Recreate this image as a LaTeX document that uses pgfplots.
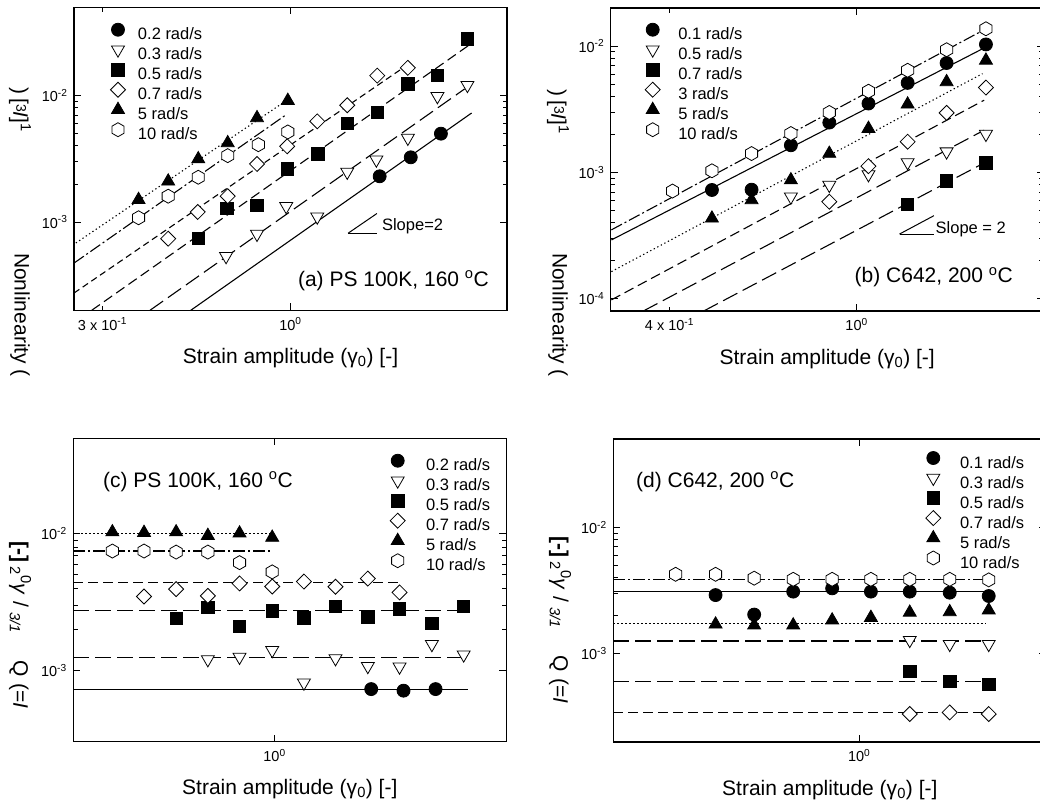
\documentclass[border=0pt]{standalone}
\usepackage{fontspec}
\setmainfont{Liberation Sans}
\usepackage{pgfplots}
\pgfplotsset{compat=1.18}
\usetikzlibrary{plotmarks}

\pgfdeclareplotmark{hexagon}{%
  \pgfpathmoveto{\pgfqpoint{0pt}{\pgfplotmarksize}}%
  \pgfpathlineto{\pgfqpoint{0.866\pgfplotmarksize}{0.5\pgfplotmarksize}}%
  \pgfpathlineto{\pgfqpoint{0.866\pgfplotmarksize}{-0.5\pgfplotmarksize}}%
  \pgfpathlineto{\pgfqpoint{0pt}{-\pgfplotmarksize}}%
  \pgfpathlineto{\pgfqpoint{-0.866\pgfplotmarksize}{-0.5\pgfplotmarksize}}%
  \pgfpathlineto{\pgfqpoint{-0.866\pgfplotmarksize}{0.5\pgfplotmarksize}}%
  \pgfpathclose
  \pgfusepathqfillstroke
}

\pgfplotsset{
  every axis/.append style={
    scale only axis,
    width=433pt, height=303pt,
    anchor=north west,
    axis line style={line width=1.5pt},
    every tick/.style={black, line width=0.9pt},
    major tick length=7pt, minor tick length=4.5pt,
    tick align=inside,
    tick label style={font=\fontsize{14.5}{16}\selectfont},
    xticklabel style={yshift=-4pt},
    yticklabel style={xshift=-3pt},
    xlabel style={at={(axis description cs:0.5,0)}, anchor=base, yshift=-53pt,
      font=\fontsize{21}{24}\selectfont},
    xlabel={Strain amplitude (γ\textsubscript{0}) [-]},
    legend cell align=left,
    legend style={draw=none, fill=none, inner sep=0pt, outer sep=0pt,
      font=\fontsize{16.5}{18}\selectfont, row sep=0pt,
      nodes={inner sep=1pt, text height=11.5pt, text depth=3.5pt}},
    legend image code/.code={%
      \pgfpathrectangle{\pgfpoint{-7pt}{-3.5pt}}{\pgfpoint{14pt}{15pt}}%
      \pgfusepath{use as bounding box}%
      \draw[##1,overlay] plot coordinates {(0pt,6pt)};},
  },
  mcirc/.style={only marks, mark=*, mark size=6.5pt, mark options={solid, draw=black, line width=0.8pt, fill=black}},
  mtrid/.style={only marks, mark=triangle*, mark size=7.5pt, mark options={solid, draw=black, line width=0.8pt, fill=white, rotate=180}},
  msq/.style={only marks, mark=square*, mark size=6.2pt, mark options={solid, draw=black, line width=0.8pt, fill=black}},
  mdia/.style={only marks, mark=square*, mark size=5.3pt, mark options={solid, draw=black, line width=0.8pt, fill=white, rotate=45}},
  mtriu/.style={only marks, mark=triangle*, mark size=7.5pt, mark options={solid, draw=black, line width=0.8pt, fill=black}},
  mhex/.style={only marks, mark=hexagon, mark size=7pt, mark options={solid, draw=black, line width=0.8pt, fill=white}},
  lsolid/.style={black, line width=1.1pt, no marks, forget plot, solid},
  llong/.style={black, line width=1.1pt, no marks, forget plot, dash pattern=on 16pt off 6pt},
  lmed/.style={black, line width=1.1pt, no marks, forget plot, dash pattern=on 10pt off 5pt},
  lshort/.style={black, line width=1.1pt, no marks, forget plot, dash pattern=on 6.5pt off 4pt},
  ldashdot/.style={black, line width=1.1pt, no marks, forget plot, dash pattern=on 12pt off 3pt on 2pt off 3pt},
  ldot/.style={black, line width=1.1pt, no marks, forget plot, dash pattern=on 1.3pt off 2.7pt},
}

\begin{document}
\begin{tikzpicture}

% ---------------- (a) ----------------
\begin{loglogaxis}[at={(74pt,-7.3pt)},
  xmin=0.25, xmax=4, ymin=2e-4, ymax=5e-2,
  xtick={1}, xticklabels={10\textsuperscript{0}},
  extra x ticks={0.3}, extra x tick labels={3 x 10\textsuperscript{-1}},
  extra x tick style={major tick length=4.5pt},
  ytick={1e-3,1e-2}, yticklabels={10\textsuperscript{-3},10\textsuperscript{-2}},
  legend style={at={(axis description cs:0,1)}, anchor=north west, xshift=37pt, yshift=-16.9pt, column sep=12pt},
]
\addplot[mcirc] coordinates {(1.77,2.30e-3) (2.16,3.25e-3) (2.62,5.0e-3)};
\addlegendentry{0.2 rad/s}
\addplot[mtrid] coordinates {(0.662,5.35e-4) (0.807,8.03e-4) (0.973,1.33e-3) (1.187,1.10e-3) (1.438,2.49e-3) (1.733,3.11e-3) (2.12,4.62e-3) (2.562,9.88e-3) (3.105,1.21e-2)};
\addlegendentry{0.3 rad/s}
\addplot[msq] coordinates {(0.554,7.38e-4) (0.666,1.28e-3) (0.807,1.36e-3) (0.979,2.63e-3) (1.191,3.45e-3) (1.438,6.0e-3) (1.743,7.38e-3) (2.12,1.24e-2) (2.562,1.44e-2) (3.105,2.81e-2)};
\addlegendentry{0.5 rad/s}
\addplot[mdia] coordinates {(0.457,7.38e-4) (0.552,1.20e-3) (0.669,1.60e-3) (0.807,2.88e-3) (0.979,3.97e-3) (1.187,6.26e-3) (1.438,8.39e-3) (1.743,1.44e-2) (2.12,1.66e-2)};
\addlegendentry{0.7 rad/s}
\addplot[mtriu] coordinates {(0.378,1.50e-3) (0.457,2.10e-3) (0.554,3.15e-3) (0.669,4.22e-3) (0.807,6.66e-3) (0.983,9.13e-3)};
\addlegendentry{5 rad/s}
\addplot[mhex] coordinates {(0.378,1.08e-3) (0.457,1.60e-3) (0.554,2.26e-3) (0.669,3.35e-3) (0.814,4.09e-3) (0.983,5.16e-3)};
\addlegendentry{10 rad/s}
\addplot[lsolid] coordinates {(0.528,2e-4) (3.19,7.29e-3)};
\addplot[llong] coordinates {(0.4066,2e-4) (3.05,1.13e-2)};
\addplot[lmed] coordinates {(0.28,2e-4) (3.15,2.53e-2)};
\addplot[lshort] coordinates {(0.25,2.74e-4) (2.12,1.76e-2)};
\addplot[ldashdot] coordinates {(0.25,4.73e-4) (0.973,7.07e-3)};
\addplot[ldot] coordinates {(0.253,6.82e-4) (0.952,8.75e-3)};
\draw[line width=1pt] (rel axis cs:0.633,0.2544) -- (rel axis cs:0.6996,0.3195);
\draw[line width=1pt] (rel axis cs:0.633,0.2544) -- (rel axis cs:0.6996,0.2544);
\node[anchor=base west, inner sep=0pt, font=\fontsize{16.5}{18}\selectfont] at (rel axis cs:0.711,0.262) {Slope=2};
\node[anchor=base west, inner sep=0pt, font=\fontsize{21}{24}\selectfont] at (rel axis cs:0.517,0.079) {(a) PS 100K, 160 \textsuperscript{o}C};
\end{loglogaxis}

% ---------------- (b) ----------------
\begin{loglogaxis}[at={(610.7pt,-8pt)},
  xmin=0.3, xmax=2.5, ymin=8e-5, ymax=2e-2,
  xtick={1}, xticklabels={10\textsuperscript{0}},
  extra x ticks={0.4}, extra x tick labels={4 x 10\textsuperscript{-1}},
  extra x tick style={major tick length=4.5pt},
  ytick={1e-4,1e-3,1e-2}, yticklabels={10\textsuperscript{-4},10\textsuperscript{-3},10\textsuperscript{-2}},
  legend style={at={(axis description cs:0,1)}, anchor=north west, xshift=35pt, yshift=-16.2pt, column sep=17.6pt},
]
\addplot[mcirc] coordinates {(0.4925,7.26e-4) (0.598,7.3e-4) (0.725,1.64e-3) (0.875,2.48e-3) (1.06,3.51e-3) (1.284,5.11e-3) (1.554,7.34e-3) (1.884,1.03e-2)};
\addlegendentry{0.1 rad/s}
\addplot[mtrid] coordinates {(0.725,6.42e-4) (0.875,7.94e-4) (1.06,9.64e-4) (1.284,1.2e-3) (1.554,1.46e-3) (1.884,2.01e-3)};
\addlegendentry{0.5 rad/s}
\addplot[msq] coordinates {(1.284,5.59e-4) (1.554,8.55e-4) (1.884,1.19e-3)};
\addlegendentry{0.7 rad/s}
\addplot[mdia] coordinates {(0.875,5.86e-4) (1.06,1.12e-3) (1.284,1.75e-3) (1.554,2.96e-3) (1.884,4.69e-3)};
\addlegendentry{3 rad/s}
\addplot[mtriu] coordinates {(0.4925,4.33e-4) (0.598,6.05e-4) (0.725,8.7e-4) (0.875,1.41e-3) (1.06,2.22e-3) (1.284,3.46e-3) (1.554,5.2e-3) (1.884,7.7e-3)};
\addlegendentry{5 rad/s}
\addplot[mhex] coordinates {(0.406,7.12e-4) (0.4925,1.03e-3) (0.598,1.41e-3) (0.725,2.03e-3) (0.875,2.98e-3) (1.06,4.39e-3) (1.284,6.43e-3) (1.554,9.35e-3) (1.884,1.37e-2)};
\addlegendentry{10 rad/s}
\addplot[ldashdot] coordinates {(0.301,3.51e-4) (1.884,1.37e-2)};
\addplot[lsolid] coordinates {(0.301,2.92e-4) (1.884,9.82e-3)};
\addplot[ldot] coordinates {(0.301,1.64e-4) (1.853,6.05e-3)};
\addplot[lmed] coordinates {(0.301,9.8e-5) (1.868,3.73e-3)};
\addplot[llong] coordinates {(0.352,8e-5) (1.868,2.16e-3)};
\addplot[llong] coordinates {(0.473,8e-5) (1.884,1.21e-3)};
\draw[line width=1pt] (rel axis cs:0.667,0.254) -- (rel axis cs:0.7464,0.3146);
\draw[line width=1pt] (rel axis cs:0.667,0.254) -- (rel axis cs:0.7464,0.254);
\node[anchor=base west, inner sep=0pt, font=\fontsize{16.5}{18}\selectfont] at (rel axis cs:0.750,0.257) {Slope = 2};
\node[anchor=base west, inner sep=0pt, font=\fontsize{21}{24}\selectfont] at (rel axis cs:0.563,0.094) {(b) C642, 200 \textsuperscript{o}C};
\end{loglogaxis}

% ---------------- (c) ----------------
\begin{loglogaxis}[at={(73.3pt,-438.5pt)},
  xmin=0.3, xmax=4, ymin=3e-4, ymax=5e-2,
  xtick={1}, xticklabels={10\textsuperscript{0}},
  ytick={1e-3,1e-2}, yticklabels={10\textsuperscript{-3},10\textsuperscript{-2}},
  legend style={at={(axis description cs:0,1)}, anchor=north west, xshift=317.4pt, yshift=-16.7pt, column sep=20.3pt},
]
\addplot[mcirc] coordinates {(1.783,7.27e-4) (2.163,7.08e-4) (2.62,7.27e-4)};
\addlegendentry{0.2 rad/s}
\addplot[mtrid] coordinates {(0.671,1.2e-3) (0.811,1.25e-3) (0.986,1.4e-3) (1.192,8.09e-4) (1.44,1.22e-3) (1.747,1.07e-3) (2.112,1.06e-3) (2.563,1.55e-3) (3.10,1.3e-3)};
\addlegendentry{0.3 rad/s}
\addplot[msq] coordinates {(0.555,2.41e-3) (0.671,2.89e-3) (0.811,2.09e-3) (0.986,2.73e-3) (1.192,2.42e-3) (1.44,2.94e-3) (1.747,2.44e-3) (2.112,2.81e-3) (2.563,2.21e-3) (3.10,2.94e-3)};
\addlegendentry{0.5 rad/s}
\addplot[mdia] coordinates {(0.458,3.47e-3) (0.555,3.93e-3) (0.671,3.51e-3) (0.811,4.33e-3) (0.986,4.11e-3) (1.192,4.47e-3) (1.44,4.09e-3) (1.747,4.7e-3) (2.112,3.72e-3)};
\addlegendentry{0.7 rad/s}
\addplot[mtriu] coordinates {(0.379,1.03e-2) (0.458,1.02e-2) (0.555,1.03e-2) (0.671,9.7e-3) (0.811,1.01e-2) (0.986,9.4e-3)};
\addlegendentry{5 rad/s}
\addplot[mhex] coordinates {(0.379,7.48e-3) (0.458,7.48e-3) (0.555,7.35e-3) (0.671,7.35e-3) (0.811,6.15e-3) (0.986,5.26e-3)};
\addlegendentry{10 rad/s}
\addplot[ldot] coordinates {(0.3,1e-2) (0.99,1e-2)};
\addplot[ldashdot] coordinates {(0.3,7.48e-3) (0.99,7.48e-3)};
\addplot[lmed] coordinates {(0.3,4.37e-3) (2.11,4.37e-3)};
\addplot[llong] coordinates {(0.3,2.73e-3) (3.15,2.73e-3)};
\addplot[llong] coordinates {(0.3,1.23e-3) (3.1,1.23e-3)};
\addplot[lsolid] coordinates {(0.3,7.27e-4) (3.18,7.27e-4)};
\node[anchor=base west, inner sep=0pt, font=\fontsize{21}{24}\selectfont] at (rel axis cs:0.0685,0.839) {(c) PS 100K, 160 \textsuperscript{o}C};
\end{loglogaxis}

% ---------------- (d) ----------------
\begin{loglogaxis}[at={(613.3pt,-439pt)},
  xmin=0.3, xmax=2.5, ymin=2e-4, ymax=5e-2,
  xtick={1}, xticklabels={10\textsuperscript{0}},
  ytick={1e-3,1e-2}, yticklabels={10\textsuperscript{-3},10\textsuperscript{-2}},
  legend style={at={(axis description cs:0,1)}, anchor=north west, xshift=313pt, yshift=-13.5pt, column sep=18.7pt},
]
\addplot[mcirc] coordinates {(0.495,2.91e-3) (0.598,2.04e-3) (0.724,3.1e-3) (0.876,3.29e-3) (1.059,3.1e-3) (1.281,3.1e-3) (1.558,3.04e-3) (1.886,2.86e-3)};
\addlegendentry{0.1 rad/s}
\addplot[mtrid] coordinates {(1.281,1.28e-3) (1.558,1.19e-3) (1.886,1.19e-3)};
\addlegendentry{0.3 rad/s}
\addplot[msq] coordinates {(1.281,7.23e-4) (1.558,6.03e-4) (1.886,5.7e-4)};
\addlegendentry{0.5 rad/s}
\addplot[mdia] coordinates {(1.281,3.33e-4) (1.558,3.43e-4) (1.886,3.33e-4)};
\addlegendentry{0.7 rad/s}
\addplot[mtriu] coordinates {(0.495,1.71e-3) (0.598,1.68e-3) (0.724,1.68e-3) (0.876,1.84e-3) (1.059,1.93e-3) (1.281,2.12e-3) (1.558,2.14e-3) (1.886,2.21e-3)};
\addlegendentry{5 rad/s}
\addplot[mhex] coordinates {(0.407,4.25e-3) (0.495,4.25e-3) (0.598,3.96e-3) (0.724,3.88e-3) (0.876,3.88e-3) (1.059,3.88e-3) (1.281,3.88e-3) (1.558,3.88e-3) (1.886,3.84e-3)};
\addlegendentry{10 rad/s}
\addplot[ldashdot] coordinates {(0.3,3.86e-3) (1.94,3.86e-3)};
\addplot[lsolid] coordinates {(0.3,3.1e-3) (1.94,3.1e-3)};
\addplot[ldot] coordinates {(0.3,1.73e-3) (1.865,1.73e-3)};
\addplot[llong] coordinates {(0.3,1.26e-3) (1.94,1.26e-3)};
\addplot[llong] coordinates {(0.3,6.03e-4) (1.94,6.03e-4)};
\addplot[lmed] coordinates {(0.3,3.43e-4) (1.92,3.43e-4)};
\node[anchor=base west, inner sep=0pt, font=\fontsize{21}{24}\selectfont] at (rel axis cs:0.0524,0.8406) {(d) C642, 200 \textsuperscript{o}C};
\end{loglogaxis}

% ---------------- y labels ----------------
\node[rotate=-90, font=\fontsize{21}{24}\selectfont, inner sep=0pt] at (20pt,-315pt) {Nonlinearity (};
\node[rotate=-90, font=\fontsize{21}{24}\selectfont, inner sep=0pt] at (20pt,-110pt) {)\,[\raisebox{3pt}{\fontsize{14}{14}\selectfont 3}\textit{I}]\textsuperscript{1}};
\node[rotate=-90, font=\fontsize{21}{24}\selectfont, inner sep=0pt] at (558pt,-315pt) {Nonlinearity (};
\node[rotate=-90, font=\fontsize{21}{24}\selectfont, inner sep=0pt] at (558pt,-112pt) {)\,[\raisebox{3pt}{\fontsize{14}{14}\selectfont 3}\textit{I}]\textsuperscript{1}};
\node[rotate=-90, font=\fontsize{21}{24}\selectfont, inner sep=0pt] at (20pt,-625pt) {\textbf{[-]}\,\textsubscript{2}\textsuperscript{0}\textit{γ} / \textsubscript{\textit{3/1}}\hspace{1.3em}Q (=\textit{I}};
\node[rotate=-90, font=\fontsize{21}{24}\selectfont, inner sep=0pt] at (560pt,-620pt) {\textbf{[-]}\,\textsubscript{2}\textsuperscript{0}\textit{γ} / \textsubscript{\textit{3/1}}\hspace{1.3em}Q (=\textit{I}};

\pgfresetboundingbox
\path[use as bounding box] (0pt,0pt) rectangle (1040pt,-809pt);
\end{tikzpicture}
\end{document}
